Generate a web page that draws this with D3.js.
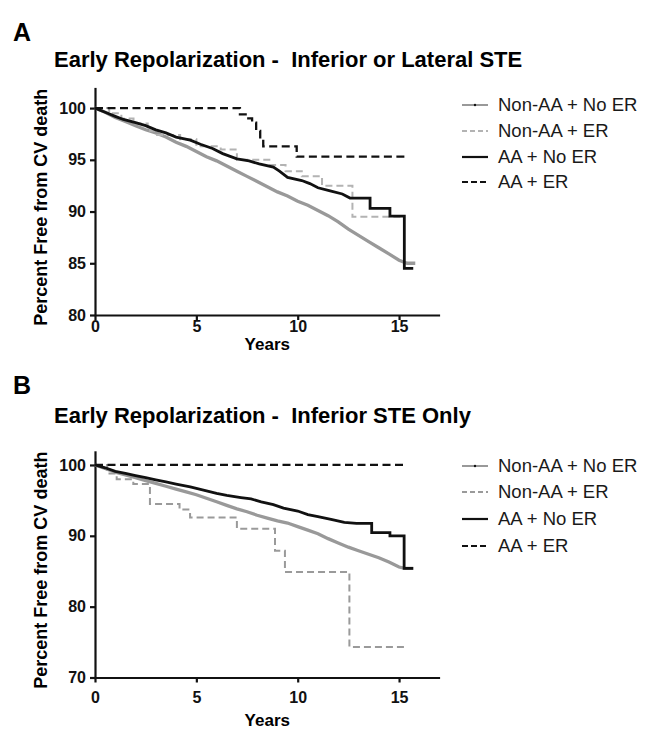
<!DOCTYPE html>
<html>
<head>
<meta charset="utf-8">
<script src="https://cdn.jsdelivr.net/npm/d3@7"></script>
<style>
  html, body { margin: 0; padding: 0; background: #fff; }
  svg text { font-family: "Liberation Sans", Arial, Helvetica, sans-serif; }
</style>
</head>
<body>
<svg id="chart" width="645" height="729"></svg>
<script>
// ---------- DATA ----------
const seriesNames = ["Non-AA + No ER", "Non-AA + ER", "AA + No ER", "AA + ER"];
const xTicks = [0, 5, 10, 15];
const yTicksA = [80, 85, 90, 95, 100];
const yTicksB = [70, 80, 90, 100];

// Panel A: Inferior or Lateral STE  [years, percent free]
const aNonAANoER = [[0,100],[0.5,99.6],[1,99.1],[1.5,98.7],[2,98.3],[2.5,97.9],[3,97.6],[3.5,97.2],[4,96.7],[4.5,96.3],[5,95.8],[5.5,95.3],[6,94.9],[6.5,94.4],[7,93.9],[7.5,93.4],[8,92.9],[8.5,92.4],[9,91.9],[9.5,91.5],[10,91.0],[10.5,90.6],[11,90.1],[11.5,89.6],[12,89.0],[12.5,88.3],[13,87.7],[13.5,87.1],[14,86.5],[14.5,85.9],[15,85.3],[15.4,85.0],[15.8,85.0]];
const aNonAAER = [[0,100],[0.7,99.5],[1.3,99.0],[1.9,98.5],[2.6,97.8],[3.0,97.4],[4.2,97.0],[5.0,96.3],[6.2,96.0],[7.0,95.0],[8.6,94.5],[9.4,93.9],[10.2,93.4],[11.2,92.5],[12.7,89.5],[15.3,89.5]];
const aAANoER = [[0,100],[0.5,99.6],[1,99.2],[1.4,98.9],[2,98.6],[2.5,98.3],[3,97.9],[3.5,97.6],[4,97.2],[4.7,96.9],[5.2,96.5],[5.8,96.1],[6.3,95.6],[7,95.1],[7.6,94.9],[8.1,94.6],[8.8,94.3],[9.1,93.9],[9.5,93.3],[10.2,93.0],[10.6,92.7],[11,92.3],[11.6,92.0],[12.2,91.7],[12.58,91.3],[13.57,91.3],[13.57,90.3],[14.55,90.3],[14.55,89.55],[15.26,89.55],[15.26,84.5],[15.7,84.5]];
const aAAER = [[0,100],[7.15,99.4],[7.5,99.0],[7.75,98.6],[7.95,97.8],[8.15,97.0],[8.3,96.3],[9.95,95.3],[15.45,95.3]];

// Panel B: Inferior STE only
const bNonAANoER = [[0,100],[0.5,99.5],[1,99.0],[1.5,98.6],[2,98.2],[2.5,97.8],[3,97.4],[3.5,97.0],[4,96.6],[4.5,96.2],[5,95.8],[5.5,95.3],[6,94.8],[6.5,94.3],[7,93.8],[7.5,93.4],[8,92.9],[8.5,92.5],[9,92.1],[9.5,91.8],[10,91.3],[10.5,90.8],[11,90.3],[11.5,89.6],[12,89.0],[12.5,88.4],[13,87.9],[13.5,87.4],[14,86.9],[14.5,86.3],[15,85.6],[15.3,85.4],[15.7,85.4]];
const bNonAAER = [[0,100],[0.6,98.8],[1.07,98.0],[1.89,97.3],[2.71,94.5],[4.17,93.7],[4.69,92.6],[7.0,91.0],[8.88,87.9],[9.37,84.9],[12.55,74.3],[15.38,74.3]];
const bAANoER = [[0,100],[0.5,99.6],[1,99.1],[1.5,98.8],[2,98.5],[2.5,98.2],[3,97.9],[3.5,97.6],[4,97.3],[4.7,96.9],[5.3,96.5],[6,96.0],[6.5,95.7],[7.2,95.4],[7.7,95.2],[8.2,94.8],[8.8,94.4],[9.3,93.9],[10,93.5],[10.5,93.0],[11,92.7],[11.7,92.3],[12.3,91.9],[12.9,91.75],[13.65,91.75],[13.65,90.45],[14.55,90.45],[14.55,90.0],[15.25,90.0],[15.25,85.4],[15.7,85.4]];
const bAAER = [[0,100],[15.35,100]];

// ---------- DRAW ----------
const svg = d3.select("#chart");

const panels = [
  { letter: "A", title: "Early Repolarization -\u00a0 Inferior or Lateral STE",
    letterY: 41, titleY: 67, top: 87.4, bottom: 315, yDomain: [80, 102], yTicks: yTicksA,
    xLabY: 331.5, yearsY: 350, legendY: [105, 131, 157, 182],
    series: [aNonAANoER, aNonAAER, aAANoER, aAAER], dashGray: "#b3b3b3" },
  { letter: "B", title: "Early Repolarization -\u00a0 Inferior STE Only",
    letterY: 394, titleY: 423, top: 450.8, bottom: 677.5, yDomain: [70, 102], yTicks: yTicksB,
    xLabY: 703, yearsY: 726, legendY: [466, 492, 519, 546],
    series: [bNonAANoER, bNonAAER, bAANoER, bAAER], dashGray: "#9a9a9a" }
];

const left = 95, right = 439.6;
const styles = [
  { stroke: "#999999", width: 3.3, dash: null, curve: d3.curveLinear },
  { stroke: null, width: 2, dash: "7,4", curve: d3.curveStepAfter },
  { stroke: "#111111", width: 2.8, dash: null, curve: d3.curveLinear },
  { stroke: "#111111", width: 2.3, dash: "8,4.5", curve: d3.curveStepAfter }
];

panels.forEach(p => {
  const x = d3.scaleLinear().domain([0, 17]).range([left, right]);
  const y = d3.scaleLinear().domain(p.yDomain).range([p.bottom, p.top]);
  const g = svg.append("g");

  g.append("text").attr("x", 13).attr("y", p.letterY)
    .attr("font-size", 25).attr("font-weight", "bold").text(p.letter);
  g.append("text").attr("x", 54).attr("y", p.titleY)
    .attr("font-size", 22).attr("font-weight", "bold")
    .text(p.title);

  // axes
  const xAxis = d3.axisBottom(x).tickValues(xTicks).tickSize(5).tickSizeOuter(0).tickPadding(1);
  const yAxis = d3.axisLeft(y).tickValues(p.yTicks).tickSize(5).tickSizeOuter(0).tickPadding(4);
  const gx = g.append("g").attr("transform", `translate(0,${p.bottom})`).call(xAxis);
  const gy = g.append("g").attr("transform", `translate(${left},0)`).call(yAxis);
  [gx, gy].forEach(ax => {
    ax.select(".domain").attr("stroke", "#111").attr("stroke-width", 2.2);
    ax.selectAll(".tick line").attr("stroke", "#111").attr("stroke-width", 2.2);
    ax.selectAll(".tick text").attr("fill", "#111").attr("font-size", 16).attr("font-weight", "bold")
      .attr("font-family", "'Liberation Sans', Arial, sans-serif");
  });
  gx.selectAll(".tick text").attr("dy", null).attr("y", null)
    .attr("transform", `translate(0,${p.xLabY - p.bottom})`);

  g.append("text").attr("x", (left + right) / 2).attr("y", p.yearsY)
    .attr("text-anchor", "middle").attr("font-size", 17).attr("font-weight", "bold").text("Years");
  g.append("text")
    .attr("transform", `translate(47,${(p.top + p.bottom) / 2 + 6}) rotate(-90)`)
    .attr("text-anchor", "middle").attr("font-size", 18).attr("font-weight", "bold")
    .text("Percent Free from CV death");

  // curves
  p.series.forEach((data, i) => {
    const s = styles[i];
    const line = d3.line().x(d => x(d[0])).y(d => y(d[1])).curve(s.curve);
    g.append("path").datum(data).attr("d", line)
      .attr("fill", "none")
      .attr("stroke", s.stroke || p.dashGray)
      .attr("stroke-width", s.width)
      .attr("stroke-dasharray", s.dash)
      .attr("stroke-linejoin", "miter");
  });

  // legend
  const lx0 = 462, lx1 = 488, tx = 498;
  seriesNames.forEach((name, i) => {
    const ly = p.legendY[i];
    const s = styles[i];
    const col = s.stroke || p.dashGray;
    g.append("line").attr("x1", lx0).attr("x2", lx1).attr("y1", ly).attr("y2", ly)
      .attr("stroke", col).attr("stroke-width", i === 0 ? 2 : 2.2)
      .attr("stroke-dasharray", i === 1 ? "5,3" : (i === 3 ? "6,3" : null));
    if (i === 0) {
      g.append("circle").attr("cx", (lx0 + lx1) / 2).attr("cy", ly).attr("r", 1.2).attr("fill", "#111");
    }
    g.append("text").attr("x", tx).attr("y", ly).attr("dy", "0.35em")
      .attr("font-size", 18.5).attr("fill", "#1a1a1a").text(name);
  });
});
</script>
</body>
</html>
